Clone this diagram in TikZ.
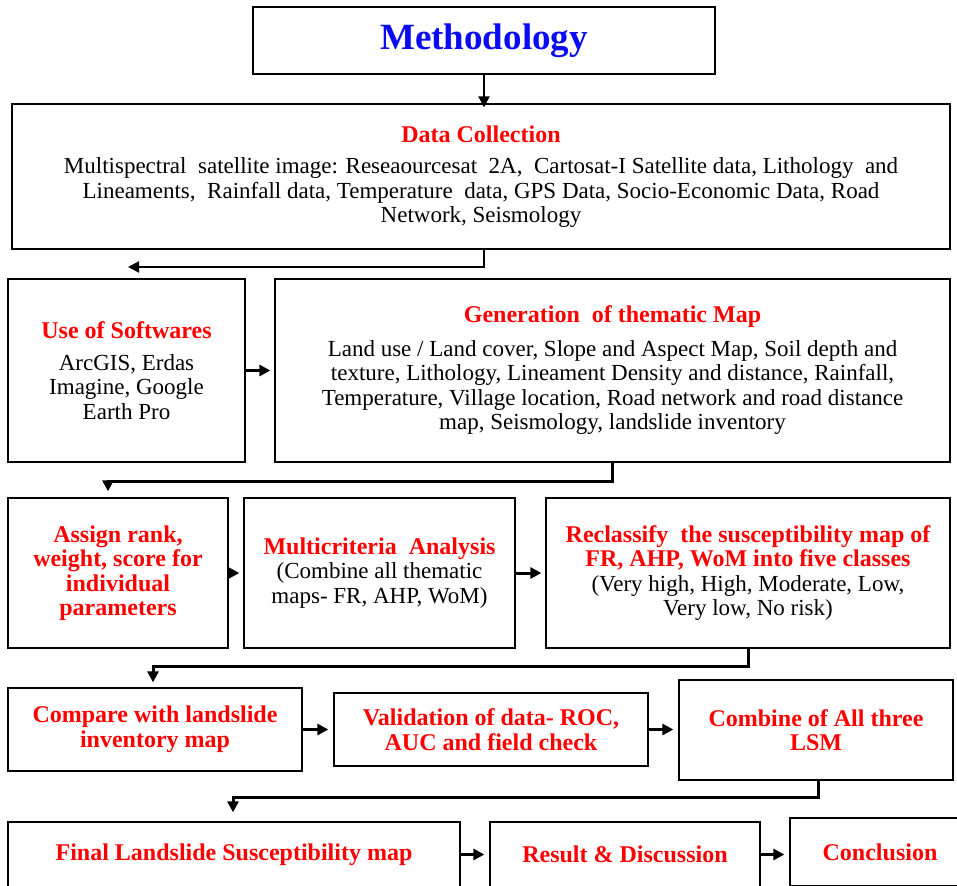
\documentclass[tikz,border=0pt]{standalone}
\usepackage{fontspec}
\setmainfont{Liberation Serif}
\usetikzlibrary{arrows.meta}
\definecolor{headred}{RGB}{255,0,0}
\definecolor{headblue}{RGB}{10,10,245}

\tikzset{
  box/.style={draw, line width=1.3pt, align=center, inner sep=0pt,
    font=\fontsize{23}{24.5}\selectfont},
  link/.style={line width=3pt, -{Triangle[length=11pt,width=11pt]}},
}
\newcommand{\hd}[1]{{\fontsize{24}{25}\selectfont\bfseries\color{headred}#1}}

\begin{document}
\begin{tikzpicture}[x=1pt, y=-1pt]
      \useasboundingbox (0,0) rectangle (957,885);
      \clip (0,0) rectangle (957,885);
      % title
      \node[box, minimum width=462pt, minimum height=67pt] (method) at (484,40.5)
        {\fontsize{37}{39}\selectfont\bfseries\color{headblue}Methodology};
      % row 1
      \node[box, minimum width=938pt, minimum height=145pt] (data) at (481,176.5)
        {\hd{Data Collection}\\[7pt]
         Multispectral\ \ satellite image: Reseaourcesat\ \ 2A,\ \ Cartosat-I Satellite data, Lithology\ \ and\\
         Lineaments,\ \ Rainfall data, Temperature\ \ data, GPS Data, Socio-Economic Data, Road\\
         Network, Seismology};
      % row 2
      \node[box, minimum width=237pt, minimum height=183pt] (soft) at (126.5,370.5)
        {\hd{Use of Softwares}\\[7pt]
         ArcGIS, Erdas\\ Imagine, Google\\ Earth Pro};
      \node[box, minimum width=675pt, minimum height=183pt] (gen) at (612.5,370.5)
        {\hd{Generation\ \ of thematic Map}\\[9pt]
         Land use / Land cover, Slope and Aspect Map, Soil depth and\\
         texture, Lithology, Lineament Density and distance, Rainfall,\\
         Temperature, Village location, Road network and road distance\\
         map, Seismology, landslide inventory};
      % row 3
      \node[box, minimum width=220pt, minimum height=150pt] (assign) at (118,573)
        {\hd{Assign rank,}\\ \hd{weight, score for}\\ \hd{individual}\\ \hd{parameters}};
      \node[box, minimum width=271pt, minimum height=150pt] (multi) at (379.5,573)
        {\hd{Multicriteria\ \ Analysis}\\
         (Combine all thematic\\ maps- FR, AHP, WoM)};
      \node[box, minimum width=404pt, minimum height=150pt] (reclass) at (748,573)
        {\hd{Reclassify\ \ the susceptibility map of}\\
         \hd{FR, AHP, WoM into five classes}\\
         (Very high, High, Moderate, Low,\\ Very low, No risk)};
      % row 4
      \node[box, minimum width=294pt, minimum height=83pt] (compare) at (155,729.5)
        {\hd{Compare with landslide}\\ \hd{inventory map}};
      \node[box, minimum width=314pt, minimum height=73pt] (valid) at (491,729.5)
        {\hd{Validation of data- ROC,}\\ \hd{AUC and field check}};
      \node[box, minimum width=274pt, minimum height=100pt] (combine) at (816,730)
        {\hd{Combine of All three}\\ \hd{LSM}};
      % row 5
      \node[box, minimum width=452pt, minimum height=65pt] (final) at (234,854.5)
        {\hd{Final Landslide Susceptibility map}};
      \node[box, minimum width=270pt, minimum height=65pt] (result) at (625,854.5)
        {\hd{Result \& Discussion}};
      \node[box, minimum width=180pt, minimum height=68pt] (concl) at (880,852)
        {\hd{Conclusion}};
      % bends
      \coordinate (dc) at (128,267);
      \coordinate (ga) at (108,481);
      \coordinate (rc) at (153,666);
      \coordinate (cf) at (233,797);
      % links
      \draw[link, line width=2pt] (method.south) -- ([yshift=-4pt]method.south |- data.north);
      \draw[link, line width=2pt] (data.south -| method.south) |- (dc);
      \draw[link, shorten >=4pt] (soft.east) -- (gen.west);
      \draw[link, shorten >=6pt] (gen.south) |- (ga) -- (assign.north -| ga);
      \draw[link, shorten >=4pt] (assign.east) -- (multi.west);
      \draw[link, shorten >=4pt] (multi.east) -- (reclass.west);
      \draw[link, shorten >=5pt] (reclass.south) |- (rc) -- (compare.north -| rc);
      \draw[link, shorten >=5pt] (compare.east) -- (valid.west |- compare.east);
      \draw[link, shorten >=5pt] (valid.east) -- (combine.west |- valid.east);
      \draw[link, shorten >=9pt] ([xshift=2pt]combine.south) |- (cf) -- (final.north -| cf);
      \draw[link, shorten >=5pt] (final.east) -- (result.west);
      \draw[link, shorten >=5pt] (result.east) -- (concl.west |- result.east);
\end{tikzpicture}
\end{document}
